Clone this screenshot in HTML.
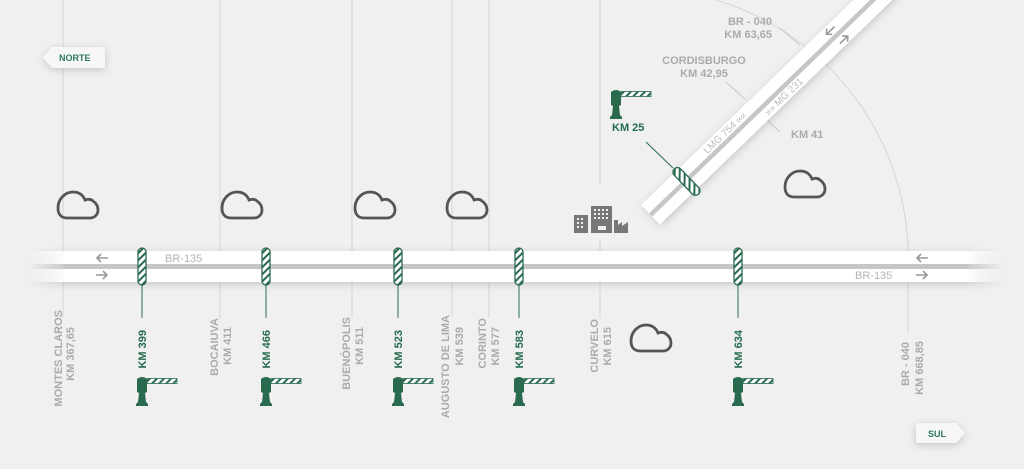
<!DOCTYPE html>
<html><head><meta charset="utf-8"><style>
html,body{margin:0;padding:0;background:#f0f0f0;}
svg{display:block;font-family:"Liberation Sans",sans-serif;}
.lbl{font-weight:bold;font-size:11px;fill:#ababab;}
.km{font-weight:bold;font-size:11px;fill:#256b4d;}
</style></head><body>
<svg width="1024" height="469" viewBox="0 0 1024 469" xmlns="http://www.w3.org/2000/svg">
<defs>
<pattern id="h" width="5" height="5" patternUnits="userSpaceOnUse" patternTransform="rotate(45)">
<rect width="5" height="5" fill="#fff"/><rect width="2" height="5" fill="#2a6b50"/></pattern>
<filter id="sh" x="-5%" y="-60%" width="110%" height="220%"><feDropShadow dx="0" dy="2" stdDeviation="4" flood-color="#000" flood-opacity="0.18"/></filter>
<linearGradient id="fade" x1="0" x2="1" y1="0" y2="0">
<stop offset="0" stop-color="#fff" stop-opacity="0"/><stop offset="0.04" stop-color="#fff"/><stop offset="0.96" stop-color="#fff"/><stop offset="1" stop-color="#fff" stop-opacity="0"/></linearGradient>
<linearGradient id="fadeg" x1="0" x2="1" y1="0" y2="0">
<stop offset="0" stop-color="#c6c6c6" stop-opacity="0"/><stop offset="0.04" stop-color="#c6c6c6"/><stop offset="0.96" stop-color="#c6c6c6"/><stop offset="1" stop-color="#c6c6c6" stop-opacity="0"/></linearGradient>
<g id="cloud"><path d="M9,28 C3,28 0,24 0,18 C0,9 7,2 15,2 C21,2 25,5 27,10 C30,9 33,9 35,11 C38,13 40,16 40,20 C40,25 36,28 32,28 Z" fill="none" stroke="#555" stroke-width="2.8"/></g>
<g id="toll"><rect x="-4" y="0" width="8" height="37" rx="4" fill="url(#h)" stroke="#2a6b50" stroke-width="1.3"/></g>
<g id="bar"><path d="M-5,1 Q0,-3 5,1 L5,14 L3,15 L4,24 L6,26 L6,28 L-6,28 L-6,26 L-4,24 L-3,15 L-5,14 Z" fill="#2a6b50"/><rect x="5" y="0.5" width="30" height="5" fill="url(#h)" stroke="#2a6b50" stroke-width="0.8"/></g>
<g id="arr"><path d="M6,0 L-5,0 M-1,-4 L-5,0 L-1,4" fill="none" stroke="#999" stroke-width="1.6"/></g>
</defs>
<rect width="1024" height="469" fill="#f0f0f0"/>
<g stroke="#d6d6d6" stroke-width="1">
<line x1="63" y1="0" x2="63" y2="318"/>
<line x1="220" y1="0" x2="220" y2="318"/>
<line x1="352" y1="0" x2="352" y2="317"/>
<line x1="452" y1="0" x2="452" y2="316"/>
<line x1="489" y1="0" x2="489" y2="318"/>
<line x1="600" y1="0" x2="600" y2="185"/>
<line x1="600" y1="240" x2="600" y2="318"/>
<line x1="908" y1="240" x2="908" y2="332"/>
</g>
<path d="M716,0 A270,270 0 0 1 908,248" fill="none" stroke="#d6d6d6" stroke-width="1"/>
<g stroke="#c8c8c8" stroke-width="1">
<line x1="780" y1="28" x2="800" y2="45"/>
<line x1="726" y1="82" x2="745" y2="99"/>
<line x1="767" y1="120" x2="780" y2="132"/>
</g>
<line x1="646" y1="142" x2="673" y2="168" stroke="#2a6b50" stroke-width="1"/>
<g filter="url(#sh)">
<rect x="27" y="251" width="978" height="31" fill="url(#fade)"/>
</g>
<rect x="27" y="264" width="978" height="5" fill="url(#fadeg)"/>
<use href="#arr" x="102" y="258"/>
<use href="#arr" transform="translate(102,275) rotate(180)"/>
<use href="#arr" x="922" y="258"/>
<use href="#arr" transform="translate(922,275) rotate(180)"/>
<text x="165" y="262" font-size="11" fill="#b4b4b4">BR-135</text>
<text x="855" y="279" font-size="11" fill="#b4b4b4">BR-135</text>
<g transform="translate(653,213) rotate(-44)">
<g filter="url(#sh)"><rect x="-3" y="-14" width="420" height="27" fill="#fff"/></g>
<rect x="-3" y="-2.5" width="420" height="4.5" fill="#c6c6c6"/>
<text x="80" y="-4.5" font-size="10" fill="#bcbcbc">LMG 754 ««</text>
<text x="150" y="10.5" font-size="10" fill="#bcbcbc">»» MG 231</text>
<rect x="41.5" y="-17" width="9" height="35" rx="4.5" fill="url(#h)" stroke="#2a6b50" stroke-width="1.3"/>
<use href="#arr" x="254" y="-8"/>
<use href="#arr" transform="translate(258,8) rotate(180)"/>
</g>
<g stroke="#2a6b50" stroke-width="1">
<line x1="142" y1="285" x2="142" y2="318"/><line x1="266" y1="285" x2="266" y2="318"/>
<line x1="398" y1="285" x2="398" y2="318"/><line x1="519" y1="285" x2="519" y2="318"/>
<line x1="738" y1="285" x2="738" y2="318"/>
</g>
<use href="#toll" x="142" y="248"/><use href="#toll" x="266" y="248"/>
<use href="#toll" x="398" y="248"/><use href="#toll" x="519" y="248"/>
<use href="#toll" x="738" y="248"/>
<use href="#bar" x="142" y="378"/><use href="#bar" x="266" y="378"/>
<use href="#bar" x="398" y="378"/><use href="#bar" x="519" y="378"/>
<use href="#bar" x="738" y="378"/><use href="#bar" x="616" y="91"/>
<use href="#cloud" x="58" y="190"/><use href="#cloud" x="222" y="190"/>
<use href="#cloud" x="355" y="190"/><use href="#cloud" x="447" y="190"/>
<use href="#cloud" x="785" y="169"/><use href="#cloud" x="631" y="323"/>
<g fill="#777">
<rect x="574" y="215" width="14" height="18"/>
<rect x="591" y="206" width="21" height="27"/>
<path d="M614,233 L614,220 L618,220 L618,225 L622,222 L622,226 L628,222 L628,233 Z"/>
</g>
<g fill="#eee">
<rect x="577" y="218" width="2" height="2"/><rect x="581" y="218" width="2" height="2"/><rect x="577" y="222" width="2" height="2"/><rect x="581" y="222" width="2" height="2"/><rect x="577" y="226" width="2" height="2"/><rect x="581" y="226" width="2" height="2"/>
<rect x="594" y="209" width="2" height="2"/><rect x="598" y="209" width="2" height="2"/><rect x="602" y="209" width="2" height="2"/><rect x="606" y="209" width="2" height="2"/>
<rect x="594" y="213" width="2" height="2"/><rect x="598" y="213" width="2" height="2"/><rect x="602" y="213" width="2" height="2"/><rect x="606" y="213" width="2" height="2"/>
<rect x="594" y="217" width="2" height="2"/><rect x="598" y="217" width="2" height="2"/><rect x="602" y="217" width="2" height="2"/><rect x="606" y="217" width="2" height="2"/>
<rect x="598" y="226" width="8" height="4"/>
</g>
<g class="lbl" text-anchor="end">
<text x="772" y="25">BR - 040</text><text x="772" y="38">KM 63,65</text>
</g>
<g class="lbl" text-anchor="middle">
<text x="704" y="64">CORDISBURGO</text><text x="704" y="77">KM 42,95</text>
</g>
<text x="791" y="138" class="lbl">KM 41</text>
<text x="612" y="131" class="km">KM 25</text>
<g class="lbl" text-anchor="end">
<text transform="translate(62,310) rotate(-90)">MONTES CLAROS</text>
<text transform="translate(74,327) rotate(-90)">KM 367,65</text>
<text transform="translate(218,318) rotate(-90)">BOCAIUVA</text>
<text transform="translate(231,327) rotate(-90)">KM 411</text>
<text transform="translate(350,317) rotate(-90)">BUENÓPOLIS</text>
<text transform="translate(363,327) rotate(-90)">KM 511</text>
<text transform="translate(449,315) rotate(-90)">AUGUSTO DE LIMA</text>
<text transform="translate(463,327) rotate(-90)">KM 539</text>
<text transform="translate(486,318) rotate(-90)">CORINTO</text>
<text transform="translate(499,327) rotate(-90)">KM 577</text>
<text transform="translate(598,319) rotate(-90)">CURVELO</text>
<text transform="translate(611,327) rotate(-90)">KM 615</text>
<text transform="translate(909,342) rotate(-90)">BR - 040</text>
<text transform="translate(923,341) rotate(-90)">KM 668,85</text>
</g>
<g class="km" text-anchor="end">
<text transform="translate(146,330) rotate(-90)">KM 399</text>
<text transform="translate(270,330) rotate(-90)">KM 466</text>
<text transform="translate(402,330) rotate(-90)">KM 523</text>
<text transform="translate(523,330) rotate(-90)">KM 583</text>
<text transform="translate(742,330) rotate(-90)">KM 634</text>
</g>
<g filter="url(#sh)">
<path d="M52,47 L103,47 Q105,47 105,49 L105,66 Q105,68 103,68 L52,68 L43,57.5 Z" fill="#f7f7f7"/>
<path d="M918,423 L956,423 L965,433 L956,443 L918,443 Q916,443 916,441 L916,425 Q916,423 918,423 Z" fill="#f7f7f7"/>
</g>
<text x="59" y="61" font-size="9" font-weight="bold" fill="#2e7a5f">NORTE</text>
<text x="928" y="437" font-size="9" font-weight="bold" fill="#2e7a5f">SUL</text>
</svg>
</body></html>
